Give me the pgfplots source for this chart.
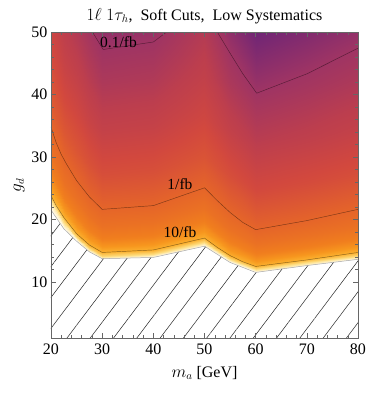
\documentclass[border=0pt]{standalone}
\usepackage{fontspec}
\setmainfont{Liberation Serif}
\usepackage{pgfplots}
\pgfplotsset{compat=1.18}
\usepackage{pgfplotstable}
\usetikzlibrary{patterns.meta}

% luminosity map: x = m_a, y = g_d, z = log10(L / fb); columns run bottom (hatch edge) to top
\pgfplotstableread{
x y z
20 21.5 1.45
20 22.7 1.28
20 23.9 1.00
20 27.23 0.55
20 30.56 0.26
20 35.0 0.00
20 38.0 -0.14
20 41.75 -0.28
20 45.8 -0.41
20 50 -0.52
22.5 18.5 1.45
22.5 19.4 1.23
22.5 20.3 1.00
22.5 23.09 0.55
22.5 25.88 0.26
22.5 29.6 0.00
22.5 33.68 -0.21
22.5 38.78 -0.42
22.5 44.29 -0.59
22.5 50 -0.73
25 16.5 1.45
25 17.1 1.15
25 17.7 1.00
25 20.28 0.55
25 22.86 0.26
25 26.3 0.00
25 31.04 -0.26
25 36.97 -0.49
25 43.36 -0.68
25 50 -0.84
27.5 14.8 1.45
27.5 15.35 1.16
27.5 15.9 1.00
27.5 18.21 0.55
27.5 20.52 0.26
27.5 23.6 0.00
27.5 28.88 -0.31
27.5 35.48 -0.58
27.5 42.61 -0.79
27.5 50 -0.96
30 13.7 1.45
30 14.2 1.17
30 14.7 1.00
30 16.77 0.55
30 18.84 0.26
30 21.6 0.00
30 27.28 -0.36
30 34.38 -0.65
30 42.05 -0.88
30 50 -1.06
40 13.9 1.45
40 14.5 1.20
40 15.1 1.00
40 17.23 0.55
40 19.36 0.26
40 22.2 0.00
40 27.76 -0.34
40 34.71 -0.63
40 42.22 -0.85
40 50 -1.03
50 15.7 1.45
50 16.35 1.19
50 17.0 1.00
50 19.42 0.55
50 21.83 0.26
50 25.05 0.00
50 30.04 -0.27
50 36.28 -0.50
50 43.01 -0.68
50 50 -0.82
55 13.1 1.45
55 13.65 1.19
55 14.2 1.00
55 16.27 0.55
55 18.34 0.26
55 21.1 0.00
55 26.88 -0.36
55 34.1 -0.66
55 41.91 -0.89
55 50 -1.07
60 11.5 1.45
60 11.98 1.19
60 12.46 1.00
60 14.23 0.55
60 15.99 0.26
60 18.35 0.00
60 24.68 -0.44
60 32.59 -0.77
60 41.14 -1.02
60 50 -1.22
70 12.6 1.45
70 13.1 1.19
70 13.6 1.00
70 15.46 0.55
70 17.32 0.26
70 19.8 0.00
70 25.84 -0.40
70 33.39 -0.72
70 41.54 -0.95
70 50 -1.14
80 13.6 1.45
80 14.15 1.19
80 14.7 1.00
80 16.77 0.55
80 18.84 0.26
80 21.6 0.00
80 27.28 -0.36
80 34.38 -0.65
80 42.05 -0.87
80 50 -1.05
}\lumimap

\pgfplotsset{
  colormap={sunset}{
    rgb255(0pt)=(105,35,120); rgb255(25pt)=(158,52,100);
    rgb255(50pt)=(188,62,78); rgb255(80pt)=(210,72,62);
    rgb255(125pt)=(229,101,41); rgb255(175pt)=(240,125,30);
    rgb255(205pt)=(247,150,30); rgb255(225pt)=(251,175,45);
    rgb255(245pt)=(254,220,125); rgb255(270pt)=(255,252,240)
  }
}

\begin{document}
\begin{tikzpicture}
\begin{axis}[
    scale only axis,
    width=307pt, height=306pt,
    xmin=20, xmax=80, ymin=1, ymax=50,
    xtick={20,30,...,80}, ytick={10,20,...,50},
    minor tick num=4,
    tick align=inside,
    major tick length=5pt, minor tick length=3pt,
    axis line style={gray!80!black, line width=0.5pt},
    every tick/.style={gray!80!black, line width=0.4pt},
    tick label style={font=\fontsize{16}{16}\selectfont},
    xticklabel style={yshift=-2pt},
    /pgf/number format/assume math mode=true,
    xlabel={$m_a$ [GeV]},
    ylabel={$g_d$},
    label style={font=\fontsize{16}{16}\selectfont},
    xlabel style={yshift=-5pt},
    title={$1\ell\;1\tau_h$,\ \ Soft Cuts,\ \ Low Systematics},
    title style={font=\fontsize{16}{16}\selectfont, yshift=-1pt},
    colormap name=sunset,
    point meta min=-1.25, point meta max=1.45,
    axis on top,
    clip=true,
]
\addplot[surf, shader=interp, mesh/cols=10, point meta=explicit]
  table[x=x, y=y, meta=z] {\lumimap};

% excluded region
\addplot[fill=white, draw=none] coordinates {
  (20,21.5) (22.5,18.5) (25,16.5) (27.5,14.8) (30,13.7) (40,13.9) (50,15.7)
  (55,13.1) (60,11.5) (70,12.6) (80,13.6) (80,0) (20,0)} -- cycle;
\addplot[pattern={Lines[angle=53, distance=18.6pt, line width=0.5pt]}, pattern color=black!85, draw=none] coordinates {
  (20,21.5) (22.5,18.5) (25,16.5) (27.5,14.8) (30,13.7) (40,13.9) (50,15.7)
  (55,13.1) (60,11.5) (70,12.6) (80,13.6) (80,0) (20,0)} -- cycle;
\addplot[gray!70, line width=0.5pt] coordinates {
  (20,21.5) (22.5,18.5) (25,16.5) (27.5,14.8) (30,13.7) (40,13.9) (50,15.7)
  (55,13.1) (60,11.5) (70,12.6) (80,13.6)};

% contours
\addplot[black, opacity=0.45, line width=0.45pt] coordinates {
  (20,23.8) (21,22.2) (22.5,20.3) (25,17.7) (27.5,15.9) (30,14.7) (40,15.1)
  (50,17.0) (52.5,15.5) (55,14.2) (57.5,13.2) (60,12.46) (70,13.5) (80,14.7)};
\addplot[black, opacity=0.45, line width=0.45pt] coordinates {
  (20,34.8) (21,32.3) (22,30.4) (23,28.9) (25,26.2) (27.5,23.6) (30,21.6)
  (40,22.2) (50,25.05) (52.5,23.0) (55,21.1) (57.5,19.5) (60,18.35) (70,19.8) (80,21.6)};
\addplot[black, opacity=0.45, line width=0.45pt] coordinates {
  (28.1,50) (30.2,47.2) (40,48.4) (42.6,50)};
\addplot[black, opacity=0.45, line width=0.45pt] coordinates {
  (52.5,50) (55,46.6) (57.5,43.3) (60.2,40.2) (70,43.3) (80,47.4)};

\node[font=\fontsize{15.5}{15.5}\selectfont] at (axis cs:33.2,48.3) {0.1/fb};
\node[font=\fontsize{15.5}{15.5}\selectfont] at (axis cs:45.2,25.7) {1/fb};
\node[font=\fontsize{15.5}{15.5}\selectfont] at (axis cs:45.2,17.9) {10/fb};

\coordinate (sw) at (rel axis cs:0,0);
\coordinate (ne) at (rel axis cs:1,1);
\end{axis}
\pgfresetboundingbox
\path[use as bounding box] ([shift={(-51pt,-58pt)}]sw) rectangle ([shift={(16pt,32pt)}]ne);
\end{tikzpicture}
\end{document}
